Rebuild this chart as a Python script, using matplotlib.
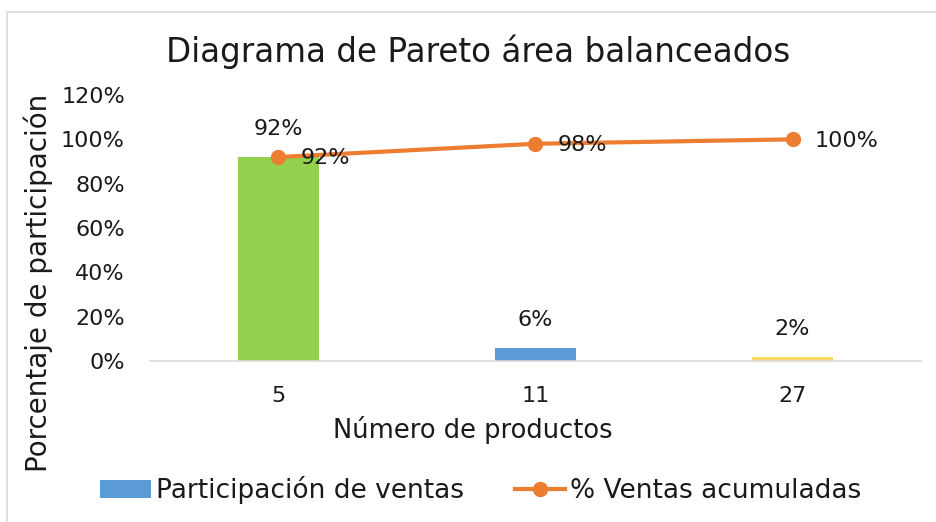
import matplotlib.pyplot as plt
from matplotlib.lines import Line2D
from matplotlib.patches import Patch

# Data
productos = ['5', '11', '27']
participacion = [0.92, 0.06, 0.02]
acumulado = [0.92, 0.98, 1.00]
bar_colors = ['#92D050', '#5B9BD5', '#FFD966']

plt.rcParams['font.family'] = ['DejaVu Sans']

fig = plt.figure(figsize=(9.37, 5.22), dpi=100)
ax = fig.add_axes([0.160, 0.3084, 0.823, 0.5096])

x = list(range(len(productos)))
ax.bar(x, participacion, width=0.315, color=bar_colors, zorder=2)
ax.plot(x, acumulado, color='#ED7D31', linewidth=3, marker='o', markersize=10, zorder=3)

# Data labels
for xi, v in zip(x, participacion):
    ax.annotate(f'{v:.0%}', (xi, v), xytext=(0, 13), textcoords='offset points',
                ha='center', va='bottom', fontsize=16, color='#1a1a1a')
for xi, v in zip(x, acumulado):
    ax.annotate(f'{v:.0%}', (xi, v), xytext=(16, -1), textcoords='offset points',
                ha='left', va='center', fontsize=16, color='#1a1a1a')

ax.set_xlim(-0.5, 2.5)
ax.set_ylim(0, 1.2)
ax.set_yticks([0, 0.2, 0.4, 0.6, 0.8, 1.0, 1.2])
ax.set_yticklabels([f'{t}%' for t in range(0, 121, 20)])
ax.set_xticks(x)
ax.set_xticklabels(productos)
ax.tick_params(axis='both', length=0, labelsize=16, colors='#1a1a1a')
ax.tick_params(axis='x', pad=18)
ax.tick_params(axis='y', pad=18)

for s in ['top', 'right', 'left']:
    ax.spines[s].set_visible(False)
ax.spines['bottom'].set_color('#D9D9D9')
ax.spines['bottom'].set_linewidth(1.2)

fig.text(0.51, 0.9, 'Diagrama de Pareto área balanceados', ha='center', va='center',
         fontsize=23.5, color='#1a1a1a')
fig.text(0.505, 0.176, 'Número de productos', ha='center', va='center',
         fontsize=18.5, color='#1a1a1a')
fig.text(0.041, 0.458, 'Porcentaje de participación', ha='center', va='center',
         rotation=90, fontsize=20, color='#1a1a1a')

handles = [Patch(facecolor='#5B9BD5'),
           Line2D([0], [0], color='#ED7D31', linewidth=3, marker='o', markersize=10)]
fig.legend(handles, ['Participación de ventas', '% Ventas acumuladas'],
           loc='center', bbox_to_anchor=(0.513, 0.061), ncol=2, frameon=False,
           fontsize=19, handlelength=1.93, handletextpad=0.19, columnspacing=1.93,
           labelcolor='#1a1a1a')

# chart border (left and top visible in the crop)
fig.add_artist(Line2D([0.0075, 0.0075, 1.0], [0, 0.977, 0.977], transform=fig.transFigure,
                      color='#D9D9D9', linewidth=1.2))

fig.savefig('out.png', dpi=100)
